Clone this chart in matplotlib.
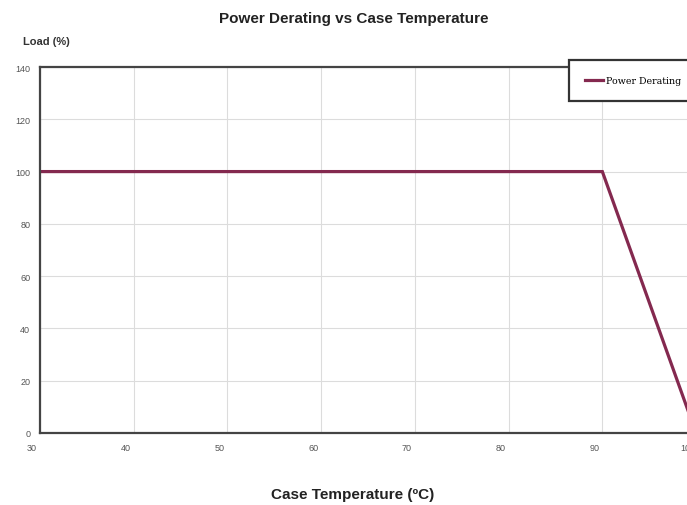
import matplotlib
matplotlib.use('Agg')
import matplotlib.pyplot as plt
import matplotlib.transforms as mtransforms

plt.rcParams['font.family'] = ['Liberation Sans', 'DejaVu Sans']

# derating curve
temps = [30, 90, 100]
load = [100, 100, 0]
xticks = [30, 40, 50, 60, 70, 80, 90, 100]
yticks = [0, 20, 40, 60, 80, 100, 120, 140]

fig = plt.figure(figsize=(6.87, 5.06), dpi=100)
ax = fig.add_axes([0.0582, 0.1423, 0.955, 0.7233])

ax.plot(temps, load, color='#84294f', lw=2.3, label='Power Derating', solid_joinstyle='miter')
ax.set_xlim(30, 100)
ax.set_ylim(0, 140)
ax.set_xticks(xticks)
ax.set_yticks(yticks)
ax.grid(True, color='#dcdcdc', lw=0.8)
ax.set_axisbelow(True)
ax.tick_params(length=0, labelsize=6.5, labelcolor='#555555', pad=7)
for s in ax.spines.values():
    s.set_color('#444444')
    s.set_linewidth(1.6)

# x labels sit a bit left of the gridlines
off = mtransforms.ScaledTranslation(-8 / 100, 0, fig.dpi_scale_trans)
for lbl in ax.get_xticklabels():
    lbl.set_transform(lbl.get_transform() + off)

fig.text(0.515, 0.962, 'Power Derating vs Case Temperature', ha='center', va='center',
         fontsize=11, fontweight='bold', color='#222222')
fig.text(0.033, 0.917, 'Load (%)', ha='left', va='center', fontsize=8,
         fontweight='bold', color='#333333')
fig.text(0.514, 0.022, 'Case Temperature (\u00baC)', ha='center', va='center',
         fontsize=11, fontweight='bold', color='#222222')

leg = fig.legend(loc='upper left', bbox_to_anchor=(0.822, 0.889),
                 frameon=True, fancybox=False, handlelength=1.9, handletextpad=0.25,
                 borderpad=1.7, prop={'family': 'DejaVu Serif', 'size': 6.8})
leg.get_frame().set_edgecolor('#333333')
leg.get_frame().set_linewidth(1.6)
leg.get_frame().set_facecolor('white')
leg.get_frame().set_alpha(1)

fig.savefig('out.png', dpi=100)
